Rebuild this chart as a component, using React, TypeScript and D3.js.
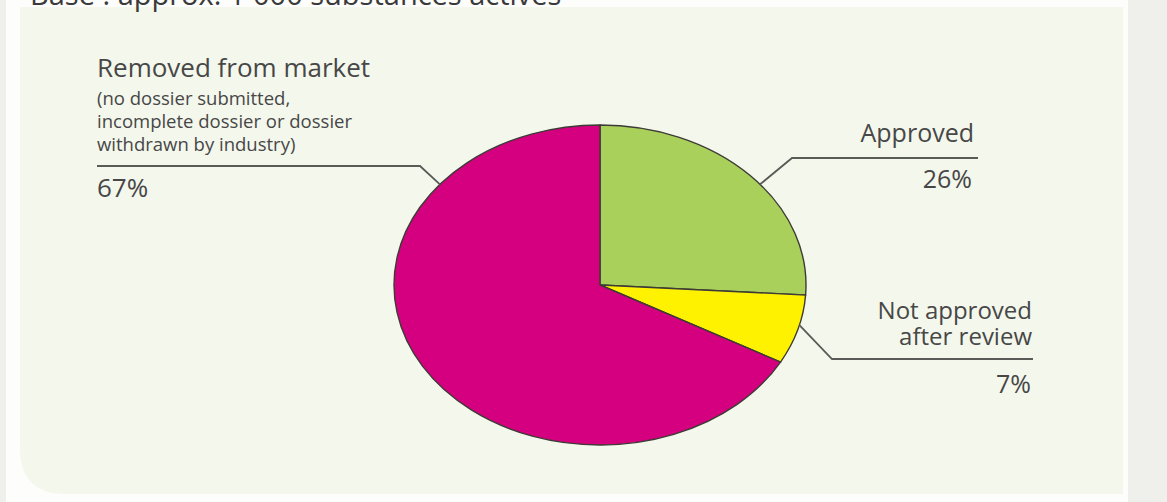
import React, { useEffect, useRef } from 'react';
import * as d3 from 'd3';

// slice data, clockwise from 12 o'clock
const categories = ['Approved', 'Not approved after review', 'Removed from market'];
const shares = [26, 7, 67];
const colors = ['#a9d05b', '#fff200', '#d5007f'];

const titleText = 'Base : approx. 1 000 substances actives';
const removedNote = ['(no dossier submitted,', 'incomplete dossier or dossier', 'withdrawn by industry)'];

const W = 1167;
const H = 502;

const App: React.FC = () => {
  const svgRef = useRef<SVGSVGElement>(null);

  useEffect(() => {
    if (!svgRef.current) return;
    const svg = d3.select(svgRef.current);
    svg.selectAll('*').remove();

    const font = '"Open Sans", "Noto Sans", sans-serif';
    const textColor = '#474747';

    // page background
    svg.append('rect').attr('width', W).attr('height', H).attr('fill', '#efefeb');
    svg.append('rect').attr('x', 6).attr('y', 0).attr('width', 1122).attr('height', H).attr('fill', '#fdfdfb');

    // panel with rounded bottom-left corner
    const px0 = 20, py0 = 7, px1 = 1123, py1 = 494, rc = 46;
    svg.append('path')
      .attr('d', `M${px0},${py0} H${px1} V${py1} H${px0 + rc} Q${px0},${py1} ${px0},${py1 - rc} Z`)
      .attr('fill', '#f4f7ec');

    // title, mostly cut off at the top edge
    svg.append('text')
      .attr('x', 30).attr('y', 5)
      .attr('font-family', font).attr('font-size', 29)
      .attr('fill', '#3a3a3a')
      .text(titleText);

    // pie drawn on a unit circle, stretched into an ellipse
    const cx = 600, cy = 285, rx = 206, ry = 160, r = 100;
    const pie = d3.pie<number>().sort(null).value(d => d);
    const arcs = pie(shares);
    const arc = d3.arc<d3.PieArcDatum<number>>().innerRadius(0).outerRadius(r);

    const g = svg.append('g')
      .attr('transform', `translate(${cx},${cy}) scale(${rx / r},${ry / r})`);
    g.selectAll('path')
      .data(arcs)
      .enter()
      .append('path')
      .attr('d', arc)
      .attr('fill', (_, i) => colors[i])
      .attr('stroke', '#3d3b35')
      .attr('stroke-width', 1.4)
      .attr('vector-effect', 'non-scaling-stroke');

    const onEllipse = (deg: number) => {
      const a = (deg * Math.PI) / 180;
      return [cx + rx * Math.sin(a), cy - ry * Math.cos(a)];
    };

    const leader = (pts: number[][]) => {
      svg.append('path')
        .attr('d', d3.line()(pts as [number, number][]))
        .attr('fill', 'none')
        .attr('stroke', '#5a5a56')
        .attr('stroke-width', 1.8);
    };

    const txt = (x: number, y: number, s: string, size: number, anchor = 'start') =>
      svg.append('text')
        .attr('x', x).attr('y', y)
        .attr('font-family', font).attr('font-size', size)
        .attr('text-anchor', anchor)
        .attr('fill', textColor)
        .text(s);

    const pct = (i: number) => `${shares[i]}%`;

    // Removed from market (left)
    txt(97, 77, categories[2], 26);
    removedNote.forEach((s, i) => txt(97, 105 + i * 23, s, 18.5));
    leader([[97, 166], [420, 166], onEllipse(-51)]);
    txt(97, 197, pct(2), 26);

    // Approved (upper right)
    txt(974, 142, categories[0], 25, 'end');
    leader([onEllipse(51), [792, 158], [978, 158]]);
    txt(972, 188, pct(0), 25, 'end');

    // Not approved after review (right)
    txt(1032, 319, 'Not approved', 24, 'end');
    txt(1032, 345, 'after review', 24, 'end');
    leader([onEllipse(104.5), [832, 359], [1033, 359]]);
    txt(1031, 393, pct(1), 25, 'end');
  }, []);

  return (
    <div style={{ position: 'absolute', left: 0, top: 0 }}>
      <svg ref={svgRef} width={W} height={H} style={{ display: 'block' }} />
    </div>
  );
};

export default App;
